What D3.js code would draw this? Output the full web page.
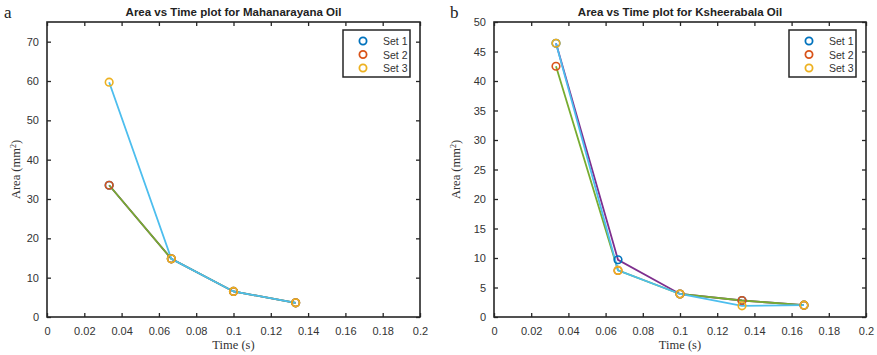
<!DOCTYPE html>
<html>
<head>
<meta charset="utf-8">
<script src="https://cdn.jsdelivr.net/npm/d3@7"></script>
<style>
  html, body { margin: 0; padding: 0; background: #fff; }
  svg { display: block; }
  .tick text { font-family: "Liberation Sans", Arial, sans-serif; font-size: 11px; fill: #333; }
</style>
</head>
<body>
<svg id="chart" width="877" height="355"></svg>
<script>
// Sampling times (s)
const timesA = [1/30, 2/30, 3/30, 4/30];
const timesB = [1/30, 2/30, 3/30, 4/30, 5/30];

// Mahanarayana oil, area (mm^2)
const mahaSet1 = [33.5, 14.8, 6.5, 3.6];
const mahaSet2 = [33.5, 14.8, 6.5, 3.6];
const mahaSet3 = [59.7, 14.8, 6.5, 3.6];

// Ksheerabala oil, area (mm^2)
const kshSet1 = [46.4, 9.7, 3.9, 2.8, 2.0];
const kshSet2 = [42.5, 7.9, 3.9, 2.8, 2.0];
const kshSet3 = [46.4, 7.9, 3.9, 1.9, 2.0];

const seriesNames = ["Set 1", "Set 2", "Set 3"];
const xTicks = [0, 0.02, 0.04, 0.06, 0.08, 0.1, 0.12, 0.14, 0.16, 0.18, 0.2];
const yTicksA = [0, 10, 20, 30, 40, 50, 60, 70];
const yTicksB = [0, 5, 10, 15, 20, 25, 30, 35, 40, 45, 50];

const markerColors = ["#0072BD", "#D95319", "#EDB120"];
const lineColors = ["#7E2F8E", "#77AC30", "#4DBEEE"];

const svg = d3.select("#chart");

function panel(opt) {
  const g = svg.append("g");
  const x = d3.scaleLinear().domain([0, 0.2]).range([opt.left, opt.right]);
  const y = d3.scaleLinear().domain([0, opt.ymax]).range([opt.bottom, opt.top]);
  const axisColor = "#262626";

  // inward ticks on all four sides
  const fmt = d => d === 0 ? "0" : String(+d.toFixed(2));
  const bottomAxis = d3.axisBottom(x).tickValues(xTicks).tickFormat(fmt).tickSizeInner(-4).tickSizeOuter(0).tickPadding(10);
  const topAxis = d3.axisTop(x).tickValues(xTicks).tickFormat("").tickSizeInner(-4).tickSizeOuter(0);
  const leftAxis = d3.axisLeft(y).tickValues(opt.yTicks).tickFormat(d3.format("d")).tickSizeInner(-4).tickSizeOuter(0).tickPadding(8);
  const rightAxis = d3.axisRight(y).tickValues(opt.yTicks).tickFormat("").tickSizeInner(-4).tickSizeOuter(0);

  const axes = [
    [bottomAxis, `translate(0,${opt.bottom})`],
    [topAxis, `translate(0,${opt.top})`],
    [leftAxis, `translate(${opt.left},0)`],
    [rightAxis, `translate(${opt.right},0)`]
  ];
  axes.forEach(([ax, tr]) => {
    const a = g.append("g").attr("transform", tr).call(ax);
    a.select(".domain").remove();
    a.selectAll(".tick line").attr("stroke", axisColor).attr("stroke-width", 1.3);
  });

  // box
  g.append("rect")
    .attr("x", opt.left).attr("y", opt.top)
    .attr("width", opt.right - opt.left).attr("height", opt.bottom - opt.top)
    .attr("fill", "none").attr("stroke", axisColor).attr("stroke-width", 1.6);

  // lines
  const line = d3.line().x((d, i) => x(opt.times[i])).y(d => y(d));
  opt.series.forEach((s, k) => {
    g.append("path").datum(s).attr("d", line)
      .attr("fill", "none").attr("stroke", lineColors[k]).attr("stroke-width", 1.8);
  });
  // markers
  opt.series.forEach((s, k) => {
    g.selectAll(null).data(s).enter().append("circle")
      .attr("cx", (d, i) => x(opt.times[i])).attr("cy", d => y(d)).attr("r", 3.8)
      .attr("fill", "none").attr("stroke", markerColors[k]).attr("stroke-width", 1.6);
  });

  // title
  g.append("text").attr("x", (opt.left + opt.right) / 2).attr("y", 16)
    .attr("text-anchor", "middle")
    .attr("font-family", "'Liberation Sans', Arial, sans-serif")
    .attr("font-weight", "bold").attr("font-size", 11.5).attr("fill", "#222")
    .text(opt.title);

  // panel letter
  g.append("text").attr("x", opt.letterX).attr("y", 18)
    .attr("font-family", "'Liberation Serif', 'Times New Roman', serif")
    .attr("font-size", 17).attr("fill", "#222").text(opt.letter);

  // x label
  g.append("text").attr("x", (opt.left + opt.right) / 2).attr("y", 349)
    .attr("text-anchor", "middle")
    .attr("font-family", "'Liberation Serif', 'Times New Roman', serif")
    .attr("font-size", 12.5).attr("fill", "#333").text("Time (s)");

  // y label
  const yl = g.append("text")
    .attr("transform", `translate(${opt.ylabelX},${(opt.top + opt.bottom) / 2}) rotate(-90)`)
    .attr("text-anchor", "middle")
    .attr("font-family", "'Liberation Serif', 'Times New Roman', serif")
    .attr("font-size", 12.5).attr("fill", "#333");
  yl.append("tspan").text("Area (mm");
  yl.append("tspan").attr("dy", -4).attr("font-size", 8).text("2");
  yl.append("tspan").attr("dy", 4).text(")");

  // legend
  const lg = g.append("g");
  lg.append("rect").attr("x", opt.legX).attr("y", 30).attr("width", 67).attr("height", 47)
    .attr("fill", "#fff").attr("stroke", axisColor).attr("stroke-width", 1.5);
  seriesNames.forEach((name, k) => {
    const cy = 41 + k * 13.5;
    lg.append("circle").attr("cx", opt.legX + 20).attr("cy", cy).attr("r", 3.6)
      .attr("fill", "none").attr("stroke", markerColors[k]).attr("stroke-width", 1.8);
    lg.append("text").attr("x", opt.legX + 40).attr("y", cy + 4)
      .attr("font-family", "'Liberation Sans', Arial, sans-serif")
      .attr("font-size", 10.5).attr("fill", "#333").text(name);
  });
}

panel({
  left: 47, right: 420, top: 22, bottom: 317, ymax: 75,
  yTicks: yTicksA, times: timesA,
  series: [mahaSet1, mahaSet2, mahaSet3],
  title: "Area vs Time plot for Mahanarayana Oil", letter: "a", letterX: 4,
  ylabelX: 20, legX: 343
});
panel({
  left: 494, right: 866, top: 22, bottom: 317, ymax: 50,
  yTicks: yTicksB, times: timesB,
  series: [kshSet1, kshSet2, kshSet3],
  title: "Area vs Time plot for Ksheerabala Oil", letter: "b", letterX: 450,
  ylabelX: 460, legX: 789
});
</script>
</body>
</html>
